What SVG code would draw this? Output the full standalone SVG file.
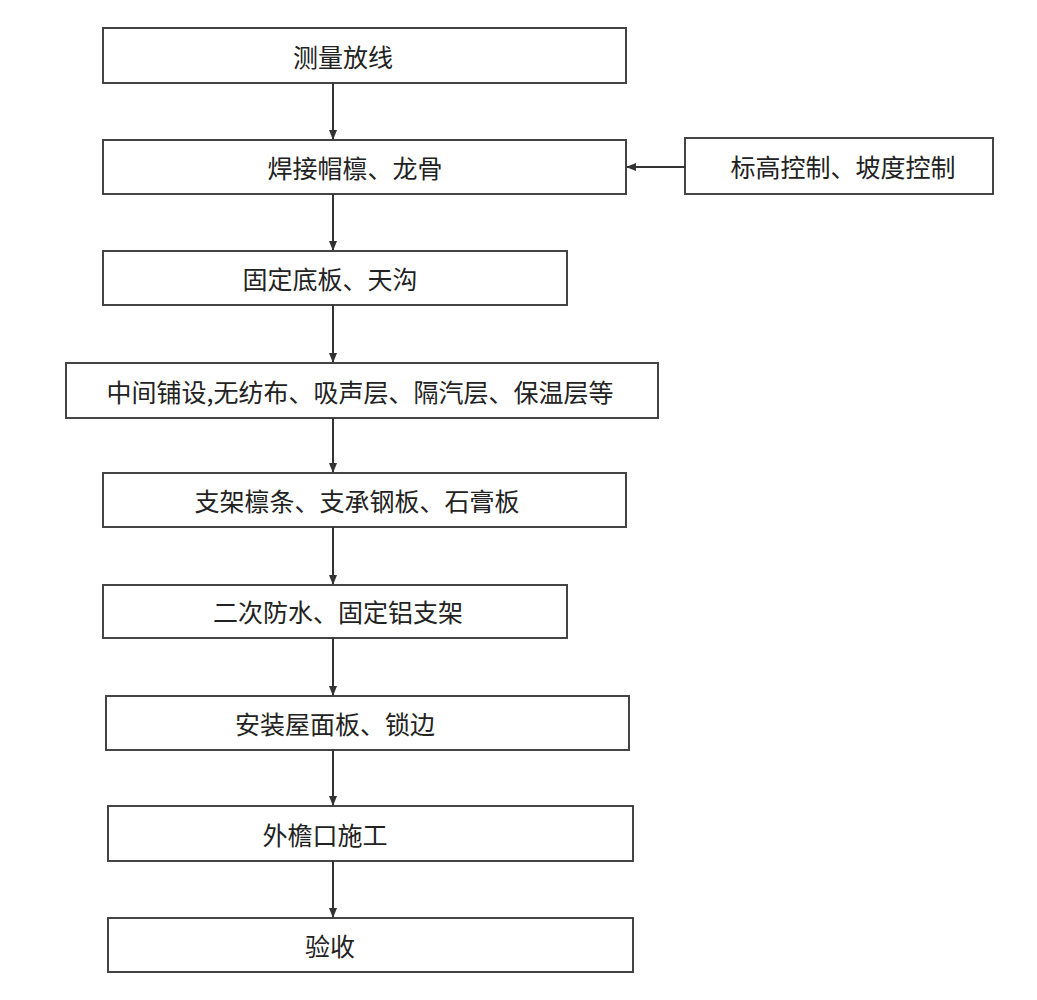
<svg xmlns="http://www.w3.org/2000/svg" width="1037" height="1000" viewBox="0 0 1037 1000">
<defs><marker id="ah" markerWidth="10" markerHeight="10" refX="9" refY="5" orient="auto" markerUnits="userSpaceOnUse"><path d="M0,1 L10,5 L0,9 Z" fill="#333"/></marker></defs>
<style>rect{fill:#fff;stroke:#444;stroke-width:2}text{font-family:"Noto Sans CJK SC",sans-serif;font-size:25px;fill:#222;text-anchor:middle;dominant-baseline:central}line{stroke:#333;stroke-width:2}</style>
<rect width="1037" height="1000" fill="#fff" style="stroke:none"/>
<g id="n1"><rect x="103" y="28" width="523" height="55"/><text x="343" y="56">测量放线</text></g>
<g id="n2"><rect x="103" y="140" width="523" height="54"/><text x="355" y="167">焊接帽檩、龙骨</text></g>
<g id="n2b"><rect x="685" y="138" width="308" height="56"/><text x="843" y="166">标高控制、坡度控制</text></g>
<g id="n3"><rect x="103" y="251" width="464" height="54"/><text x="330" y="278">固定底板、天沟</text></g>
<g id="n4"><rect x="66" y="363" width="592" height="55"/><text x="360" y="391">中间铺设,无纺布、吸声层、隔汽层、保温层等</text></g>
<g id="n5"><rect x="103" y="473" width="523" height="54"/><text x="357" y="500">支架檩条、支承钢板、石膏板</text></g>
<g id="n6"><rect x="103" y="585" width="464" height="53"/><text x="338" y="611">二次防水、固定铝支架</text></g>
<g id="n7"><rect x="106" y="696" width="523" height="54"/><text x="335" y="723">安装屋面板、锁边</text></g>
<g id="n8"><rect x="108" y="806" width="525" height="55"/><text x="325" y="834">外檐口施工</text></g>
<g id="n9"><rect x="108" y="918" width="525" height="54"/><text x="330" y="945">验收</text></g>
<g id="edges">
<line x1="333" y1="83" x2="333" y2="139" marker-end="url(#ah)"/>
<line x1="333" y1="194" x2="333" y2="250" marker-end="url(#ah)"/>
<line x1="333" y1="305" x2="333" y2="362" marker-end="url(#ah)"/>
<line x1="333" y1="418" x2="333" y2="472" marker-end="url(#ah)"/>
<line x1="333" y1="527" x2="333" y2="584" marker-end="url(#ah)"/>
<line x1="333" y1="638" x2="333" y2="695" marker-end="url(#ah)"/>
<line x1="333" y1="750" x2="333" y2="805" marker-end="url(#ah)"/>
<line x1="333" y1="861" x2="333" y2="917" marker-end="url(#ah)"/>
<line x1="685" y1="167" x2="627" y2="167" marker-end="url(#ah)"/>
</g>
</svg>
